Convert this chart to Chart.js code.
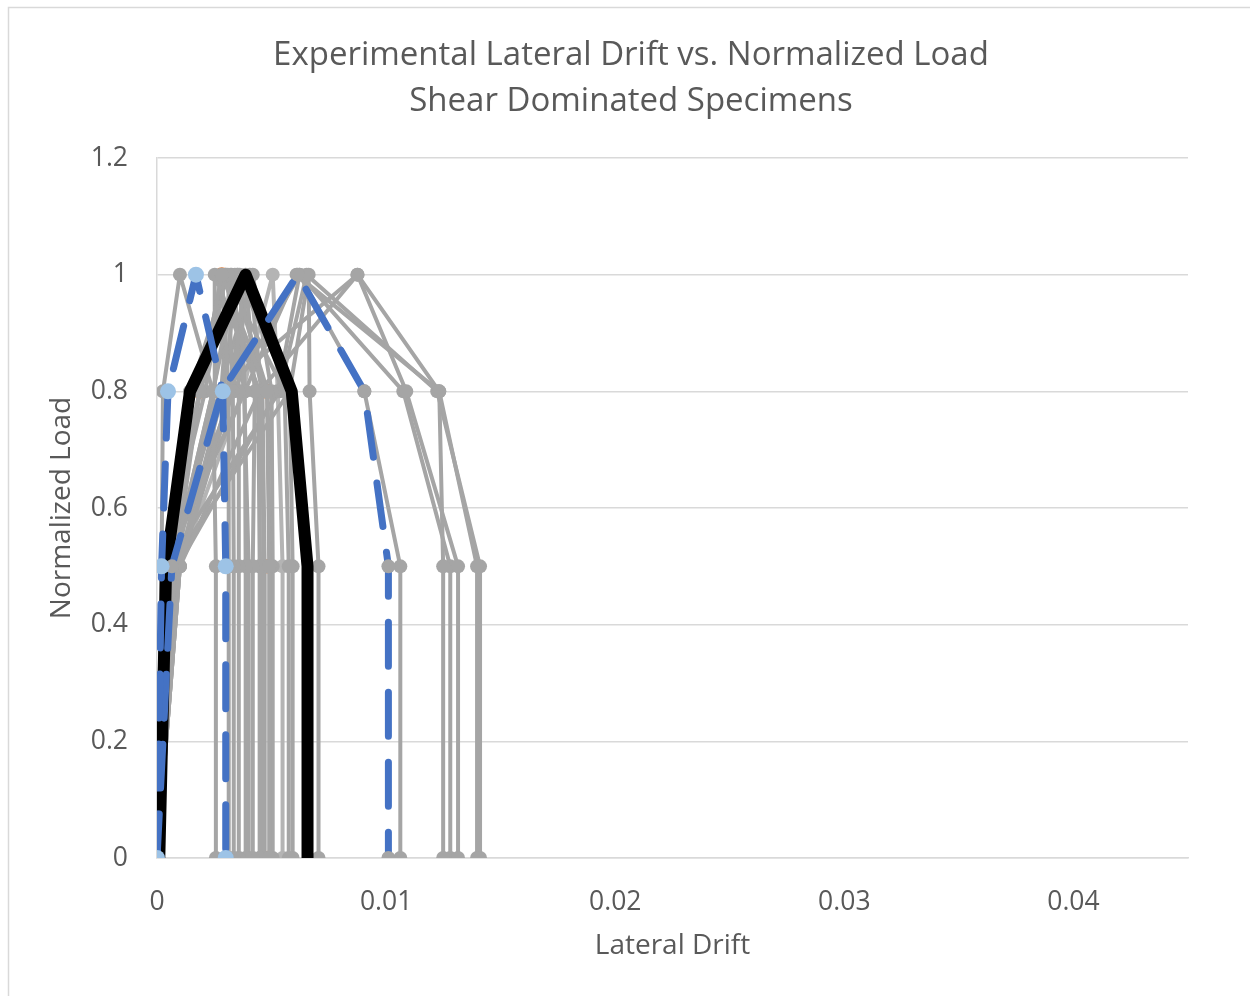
<!DOCTYPE html>
<html>
<head>
<meta charset="utf-8">
<script src="https://cdn.jsdelivr.net/npm/chart.js@4.4.1/dist/chart.umd.min.js"></script>
<style>
  html, body { margin: 0; padding: 0; background: #fff; }
  #wrap { width: 1250px; height: 996px; position: relative; }
</style>
</head>
<body>
<div id="wrap"><canvas id="chart" width="1250" height="996"></canvas></div>
<script>
// load steps, same for every specimen
const loadLevels = [0, 0.5, 0.8, 1, 0.8, 0.5, 0];

// lateral drift at each load step
const driftBlack = [0.0001, 0.0004, 0.00144, 0.00387, 0.00588, 0.00657, 0.00657];
const driftBlueA = [0, 0.0002, 0.00048, 0.0017, 0.00287, 0.003, 0.003];
const driftBlueB = [0, 0.00065, 0.00283, 0.00614, 0.00905, 0.0101, 0.0101];
const driftOrange = [0, 0.0002, 0.00187, 0.00283, 0.0048, 0.0049, 0.0049];
const driftLight = [0, 0.001, 0.00374, 0.00505, 0.00527, 0.00548, 0.00548];

const driftGray = [
  [0, 0.0002, 0.00187, 0.00283, 0.0048, 0.0049, 0.0049],
  [0, 0.0002, 0.00026, 0.001, 0.00244, 0.00257, 0.00257],
  [0, 0.0002, 0.00187, 0.00283, 0.00313, 0.00313, 0.00313],
  [0, 0.00035, 0.00144, 0.00309, 0.00331, 0.00335, 0.00335],
  [0, 0.00065, 0.00244, 0.0034, 0.00357, 0.00357, 0.00357],
  [0, 0.00065, 0.00187, 0.00361, 0.00383, 0.00387, 0.00387],
  [0, 0.001, 0.00318, 0.00387, 0.00427, 0.00418, 0.00418],
  [0, 0.00078, 0.00252, 0.00252, 0.00448, 0.00448, 0.00448],
  [0, 0.001, 0.00331, 0.00405, 0.00457, 0.00466, 0.00466],
  [0, 0.00035, 0.00383, 0.00326, 0.00483, 0.00492, 0.00492],
  [0, 0.00057, 0.00274, 0.00418, 0.005, 0.00505, 0.00505],
  [0, 0.00078, 0.00187, 0.003, 0.00557, 0.00575, 0.00575],
  [0, 0.00065, 0.00244, 0.00353, 0.00579, 0.00592, 0.00592],
  [0, 0.00091, 0.0029, 0.0035, 0.0046, 0.0047, 0.0047],
  [0, 0.00026, 0.0021, 0.003, 0.0044, 0.0045, 0.0045],
  [0, 0.00048, 0.0028, 0.0032, 0.0038, 0.004, 0.004],
  [0, 0.0002, 0.00383, 0.00609, 0.01232, 0.01397, 0.01397],
  [0, 0.00035, 0.00535, 0.00653, 0.01223, 0.0141, 0.0141],
  [0, 0.00065, 0.00274, 0.00875, 0.01088, 0.01314, 0.01314],
  [0, 0.001, 0.00448, 0.00875, 0.01232, 0.01249, 0.01249],
  [0, 0.00048, 0.00331, 0.00622, 0.01075, 0.0128, 0.0128],
  [0, 0.00057, 0.00579, 0.00662, 0.00666, 0.00705, 0.00705],
  [0, 0.00091, 0.00527, 0.00622, 0.00905, 0.01062, 0.01062]
];

const xTicks = [0, 0.01, 0.02, 0.03, 0.04];
const yTicks = [0, 0.2, 0.4, 0.6, 0.8, 1, 1.2];

const FONT = "'Open Sans', 'DejaVu Sans', sans-serif";
const TEXT = '#595959';
const GRID = '#D9D9D9';
const GRAY = '#A5A5A5';

function pts(drift) {
  return drift.map((d, i) => ({ x: d, y: loadLevels[i] }));
}

function series(drift, color, width, extra) {
  return Object.assign({
    data: pts(drift),
    showLine: true,
    borderColor: color,
    backgroundColor: color,
    borderWidth: width,
    pointRadius: 7,
    pointBorderWidth: 0,
    pointBackgroundColor: GRAY,
    tension: 0,
    borderJoinStyle: 'round',
    borderCapStyle: 'round'
  }, extra || {});
}

// first dataset ends up on top
const datasets = [
  series(driftBlueA, '#4472C4', 7, { borderDash: [44, 26], pointBackgroundColor: '#9DC3E6', pointRadius: 8 }),
  series(driftBlueB, '#4472C4', 7, { borderDash: [44, 26] }),
  series(driftBlack, '#000000', 12, { pointRadius: 0 })
];
driftGray.forEach(d => datasets.push(series(d, GRAY, 4)));
datasets.push(series(driftLight, '#B4B4B4', 4, { pointBackgroundColor: '#B4B4B4' }));
datasets.push(series(driftOrange, '#ED7D31', 2.5, { pointBackgroundColor: '#ED7D31', pointRadius: 7.5 }));

const framePlugin = {
  id: 'frame',
  beforeDraw(chart) {
    const c = chart.ctx;
    c.save();
    c.fillStyle = '#fff';
    c.fillRect(0, 0, chart.width, chart.height);
    c.strokeStyle = GRID;
    c.lineWidth = 1.5;
    c.strokeRect(8.5, 7.5, chart.width + 20, chart.height + 20);
    c.restore();
  }
};

new Chart(document.getElementById('chart'), {
  type: 'scatter',
  data: { datasets },
  plugins: [framePlugin],
  options: {
    responsive: false,
    animation: false,
    events: [],
    layout: { padding: { left: 12, right: 0, top: 0, bottom: 0 } },
    plugins: {
      legend: { display: false },
      tooltip: { enabled: false },
      title: {
        display: true,
        text: ['Experimental Lateral Drift vs. Normalized Load', 'Shear Dominated Specimens'],
        color: TEXT,
        font: { family: FONT, size: 33, weight: 'normal', lineHeight: 1.394 },
        padding: { top: 33, bottom: 33 }
      }
    },
    scales: {
      x: {
        type: 'linear',
        min: 0,
        max: 0.045,
        afterBuildTicks(scale) { scale.ticks = xTicks.map(v => ({ value: v })); },
        afterFit(scale) { scale.height = 138; },
        grid: { display: false, drawTicks: false },
        border: { display: true, color: GRID, width: 1.5 },
        ticks: {
          padding: 29,
          color: TEXT,
          font: { family: FONT, size: 26.5 },
          maxRotation: 0,
          callback: v => String(Number(v.toFixed(2)))
        },
        title: {
          display: true,
          text: 'Lateral Drift',
          color: TEXT,
          font: { family: FONT, size: 28 },
          padding: { top: 0, bottom: 33 }
        }
      },
      y: {
        type: 'linear',
        min: 0,
        max: 1.2,
        afterBuildTicks(scale) { scale.ticks = yTicks.map(v => ({ value: v })); },
        afterFit(scale) { scale.width = 145; },
        grid: { color: GRID, lineWidth: 1.5, drawTicks: false },
        border: { display: true, color: GRID, width: 1.5 },
        ticks: {
          padding: 29,
          color: TEXT,
          font: { family: FONT, size: 26.5 },
          callback: v => String(Number(v.toFixed(1)))
        },
        title: {
          display: true,
          text: 'Normalized Load',
          color: TEXT,
          font: { family: FONT, size: 28 },
          padding: { top: 33, bottom: 0 }
        }
      },
      // empty right margin so the plot stops where the reference does
      yRight: {
        type: 'linear',
        position: 'right',
        display: true,
        afterFit(scale) { scale.width = 62; },
        grid: { display: false, drawTicks: false },
        border: { display: false },
        ticks: { display: false }
      }
    }
  }
});
</script>
</body>
</html>
